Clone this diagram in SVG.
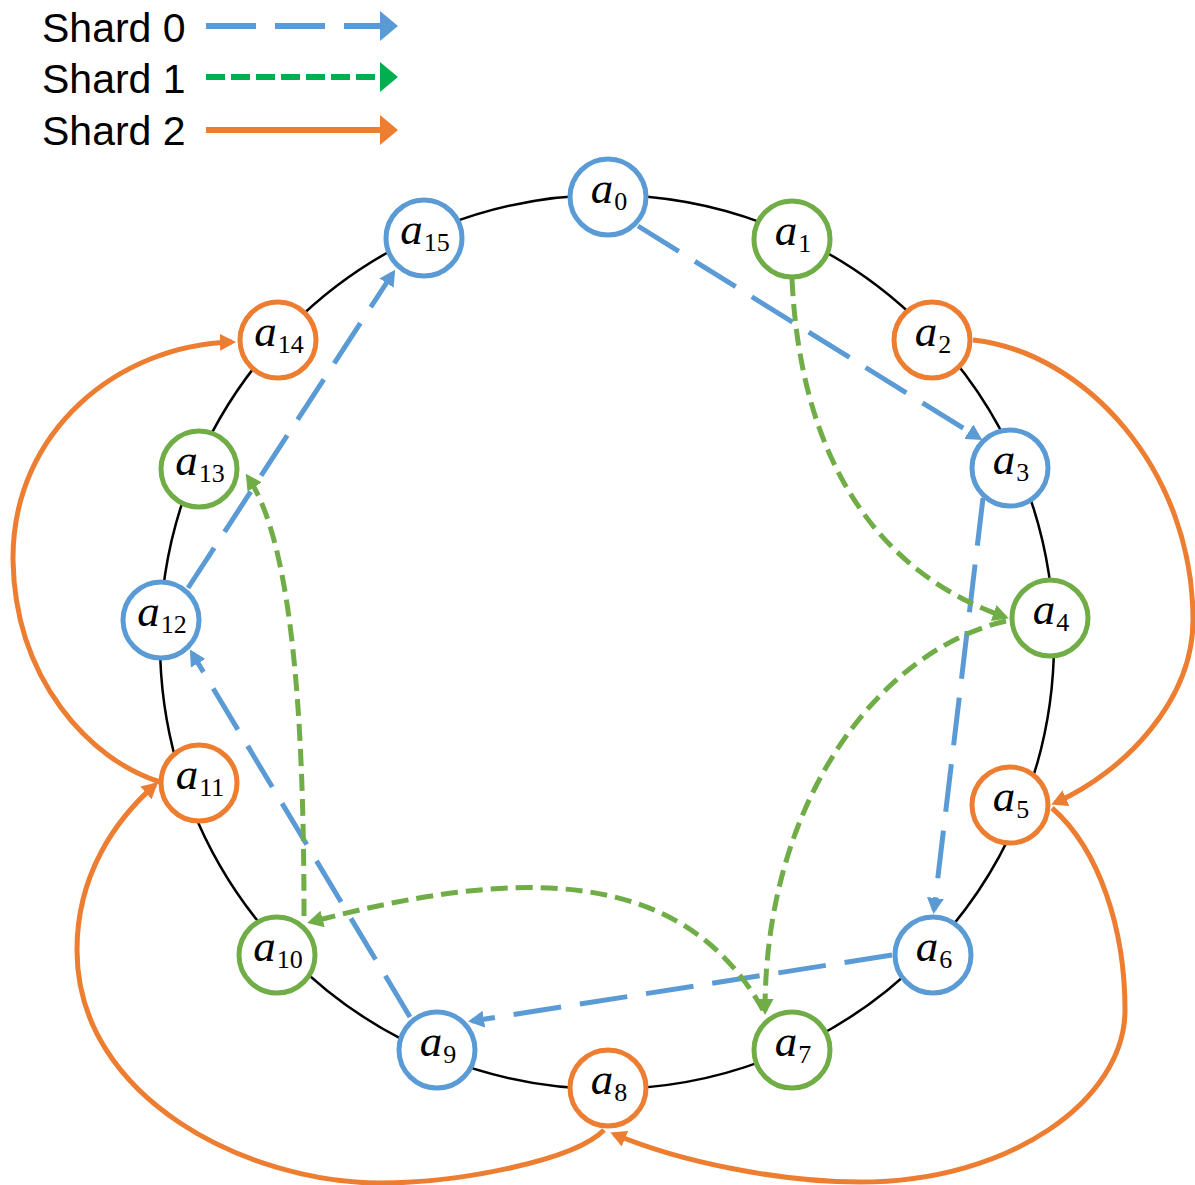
<svg xmlns="http://www.w3.org/2000/svg" width="1195" height="1185" viewBox="0 0 1195 1185">
<style>
.ring{fill:none;stroke:#000;stroke-width:2.5}
.s0{fill:none;stroke:#5B9BD5;stroke-width:5;stroke-dasharray:48 19}
.s1{fill:none;stroke:#70AD47;stroke-width:5;stroke-dasharray:17 8}
.s2{fill:none;stroke:#ED7D31;stroke-width:5}
.n{fill:#fff;stroke-width:5}
.b{stroke:#5B9BD5}.g{stroke:#70AD47}.o{stroke:#ED7D31}
.lbl{font-family:"Liberation Serif","Times New Roman",serif;font-size:45px;fill:#000}
.lbl tspan.a{font-style:italic}
.lbl tspan.i{font-size:26px}
.leg{font-family:"Liberation Sans",Arial,sans-serif;font-size:41px;fill:#000}
</style>
<defs>
<marker id="mb" markerUnits="userSpaceOnUse" markerWidth="16" markerHeight="17" refX="12" refY="8.5" orient="auto"><path d="M0,0 L16,8.5 L0,17 z" fill="#5B9BD5"/></marker>
<marker id="mg" markerUnits="userSpaceOnUse" markerWidth="16" markerHeight="17" refX="12" refY="8.5" orient="auto"><path d="M0,0 L16,8.5 L0,17 z" fill="#70AD47"/></marker>
<marker id="mo" markerUnits="userSpaceOnUse" markerWidth="16" markerHeight="17" refX="12" refY="8.5" orient="auto"><path d="M0,0 L16,8.5 L0,17 z" fill="#ED7D31"/></marker>
<marker id="lb" markerUnits="userSpaceOnUse" markerWidth="18" markerHeight="30" refX="4" refY="15" orient="auto"><path d="M0,0 L18,15 L0,30 z" fill="#5B9BD5"/></marker>
<marker id="lg" markerUnits="userSpaceOnUse" markerWidth="18" markerHeight="30" refX="4" refY="15" orient="auto"><path d="M0,0 L18,15 L0,30 z" fill="#00B050"/></marker>
<marker id="lo" markerUnits="userSpaceOnUse" markerWidth="18" markerHeight="30" refX="4" refY="15" orient="auto"><path d="M0,0 L18,15 L0,30 z" fill="#ED7D31"/></marker>
</defs>
<rect width="1195" height="1185" fill="#fff"/>

<g id="legend">
<text class="leg" x="42" y="42">Shard 0</text>
<text class="leg" x="42" y="93">Shard 1</text>
<text class="leg" x="42" y="145">Shard 2</text>
<line x1="206" y1="26" x2="384" y2="26" stroke="#5B9BD5" stroke-width="6" stroke-dasharray="50 19" marker-end="url(#lb)"/>
<line x1="206" y1="77" x2="384" y2="77" stroke="#00B050" stroke-width="6" stroke-dasharray="19 6" marker-end="url(#lg)"/>
<line x1="206" y1="130" x2="384" y2="130" stroke="#ED7D31" stroke-width="6" marker-end="url(#lo)"/>
</g>

<circle id="ring" class="ring" cx="607" cy="642" r="447"/>

<g id="connectors">
<path class="s0" d="M638,226 L979,438" marker-end="url(#mb)"/>
<path class="s0" d="M983,498 L934,910" marker-end="url(#mb)"/>
<path class="s0" d="M892,955 L472,1021" marker-end="url(#mb)"/>
<path class="s0" d="M410,1017 L192,653" marker-end="url(#mb)"/>
<path class="s0" d="M188,588 L393,273" marker-end="url(#mb)"/>

<path class="s1" d="M792,279 C800,450 870,570 1005,617" marker-end="url(#mg)"/>
<path class="s1" d="M1006,621 C880,650 765,800 765,1011" marker-end="url(#mg)"/>
<path class="s1" d="M763,1010 C680,861 508,870 311,922" marker-end="url(#mg)"/>
<path class="s1" d="M304,916 C304,700 290,540 248,477" marker-end="url(#mg)"/>

<path class="s2" d="M973,340 C1085,352 1193,470 1193,620 C1193,700 1125,772 1055,803" marker-end="url(#mo)"/>
<path class="s2" d="M1052,808 C1100,850 1125,930 1125,1010 C1125,1100 1010,1182 860,1182 C780,1182 680,1162 614,1134" marker-end="url(#mo)"/>
<path class="s2" d="M604,1130 C575,1160 460,1183 380,1183 C250,1183 77,1100 77,950 C77,875 115,820 155,785" marker-end="url(#mo)"/>
<path class="s2" d="M160,782 C90,760 15,680 13,560 C12,430 120,345 232,342" marker-end="url(#mo)"/>
</g>

<g id="a0"><circle class="n b" cx="608" cy="197" r="38"/><text class="lbl" x="609" y="203" text-anchor="middle"><tspan class="a">a</tspan><tspan class="i" dx="1" dy="7">0</tspan></text></g>
<g id="a1"><circle class="n g" cx="792" cy="239" r="38"/><text class="lbl" x="793" y="245" text-anchor="middle"><tspan class="a">a</tspan><tspan class="i" dx="1" dy="7">1</tspan></text></g>
<g id="a2"><circle class="n o" cx="932" cy="340" r="38"/><text class="lbl" x="933" y="346" text-anchor="middle"><tspan class="a">a</tspan><tspan class="i" dx="1" dy="7">2</tspan></text></g>
<g id="a3"><circle class="n b" cx="1010" cy="468" r="38"/><text class="lbl" x="1011" y="474" text-anchor="middle"><tspan class="a">a</tspan><tspan class="i" dx="1" dy="7">3</tspan></text></g>
<g id="a4"><circle class="n g" cx="1050" cy="618" r="38"/><text class="lbl" x="1051" y="624" text-anchor="middle"><tspan class="a">a</tspan><tspan class="i" dx="1" dy="7">4</tspan></text></g>
<g id="a5"><circle class="n o" cx="1010" cy="805" r="38"/><text class="lbl" x="1011" y="811" text-anchor="middle"><tspan class="a">a</tspan><tspan class="i" dx="1" dy="7">5</tspan></text></g>
<g id="a6"><circle class="n b" cx="933" cy="955" r="38"/><text class="lbl" x="934" y="961" text-anchor="middle"><tspan class="a">a</tspan><tspan class="i" dx="1" dy="7">6</tspan></text></g>
<g id="a7"><circle class="n g" cx="792" cy="1050" r="38"/><text class="lbl" x="793" y="1056" text-anchor="middle"><tspan class="a">a</tspan><tspan class="i" dx="1" dy="7">7</tspan></text></g>
<g id="a8"><circle class="n o" cx="608" cy="1088" r="38"/><text class="lbl" x="609" y="1094" text-anchor="middle"><tspan class="a">a</tspan><tspan class="i" dx="1" dy="7">8</tspan></text></g>
<g id="a9"><circle class="n b" cx="437" cy="1050" r="38"/><text class="lbl" x="438" y="1056" text-anchor="middle"><tspan class="a">a</tspan><tspan class="i" dx="1" dy="7">9</tspan></text></g>
<g id="a10"><circle class="n g" cx="277" cy="955" r="38"/><text class="lbl" x="278" y="961" text-anchor="middle"><tspan class="a">a</tspan><tspan class="i" dx="1" dy="7">10</tspan></text></g>
<g id="a11"><circle class="n o" cx="199" cy="783" r="38"/><text class="lbl" x="200" y="789" text-anchor="middle"><tspan class="a">a</tspan><tspan class="i" dx="1" dy="7">11</tspan></text></g>
<g id="a12"><circle class="n b" cx="161" cy="620" r="38"/><text class="lbl" x="162" y="626" text-anchor="middle"><tspan class="a">a</tspan><tspan class="i" dx="1" dy="7">12</tspan></text></g>
<g id="a13"><circle class="n g" cx="199" cy="469" r="38"/><text class="lbl" x="200" y="475" text-anchor="middle"><tspan class="a">a</tspan><tspan class="i" dx="1" dy="7">13</tspan></text></g>
<g id="a14"><circle class="n o" cx="278" cy="340" r="38"/><text class="lbl" x="279" y="346" text-anchor="middle"><tspan class="a">a</tspan><tspan class="i" dx="1" dy="7">14</tspan></text></g>
<g id="a15"><circle class="n b" cx="424" cy="238" r="38"/><text class="lbl" x="425" y="244" text-anchor="middle"><tspan class="a">a</tspan><tspan class="i" dx="1" dy="7">15</tspan></text></g>
</svg>
